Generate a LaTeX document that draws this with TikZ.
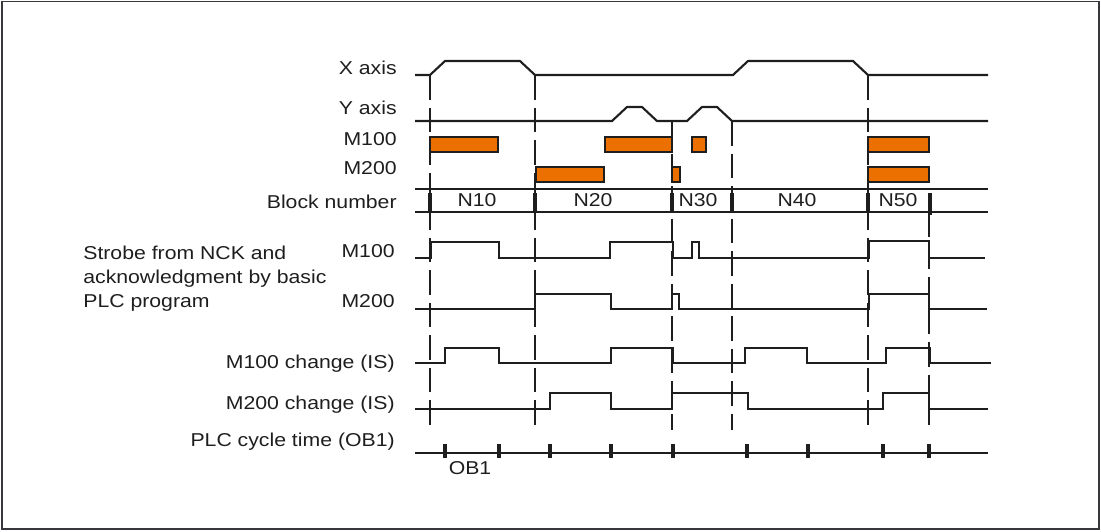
\documentclass[tikz,border=0pt]{standalone}
\usepackage{fontspec}
\setmainfont{Liberation Sans}[FakeStretch=1.14]
\usepackage{xcolor}
\usepackage{tikz}
\usetikzlibrary{positioning}
\definecolor{myorange}{RGB}{236,112,0}
\definecolor{mydark}{RGB}{30,30,30}
\definecolor{myframe}{RGB}{55,55,60}
\tikzset{
  signal/.style={line width=1.2pt, color=mydark},
  rowline/.style={line width=0.6pt, color=mydark},
  guide/.style={line width=0.6pt, color=mydark, dash pattern=on 14pt off 4.5pt},
  mbox/.style={draw=mydark, fill=myorange, line width=1.1pt},
  tickmark/.style={line width=1.8pt, color=mydark},
  lbl/.style={anchor=east, font=\fontsize{10.6}{13.7}\selectfont, text=mydark,
    inner sep=0pt, text height=7.5pt, text depth=0pt},
  blk/.style={font=\fontsize{10.6}{13.7}\selectfont, text=mydark,
    inner sep=0pt, text height=7.5pt, text depth=0pt}
}

\begin{document}
\begin{tikzpicture}[x=0.02cm, y=-0.02cm]
  \useasboundingbox (0,0) rectangle (1101,531);
  \draw[myframe, line width=0.8pt] (2,1.5) rectangle (1099,529);

  % row labels
  \node[lbl] (xaxis) at (397,68) {X axis};
  \node[lbl] (yaxis) at (397,108) {Y axis};
  \node[lbl] (m100) at (397,139) {M100};
  \node[lbl] (m200) at (397,168) {M200};
  \node[lbl] (block) at (397,202) {Block number};
  \node[blk, anchor=west, align=left, text height=, text depth=] (strobe) at (83,279)
    {Strobe from NCK and\\acknowledgment by basic\\PLC program};
  \node[lbl] (strobea) at (395,251) {M100};
  \node[lbl] (strobeb) at (395,301) {M200};
  \node[lbl] (chga) at (395,362) {M100 change (IS)};
  \node[lbl] (chgb) at (395,403) {M200 change (IS)};
  \node[lbl] (cycle) at (395,440) {PLC cycle time (OB1)};

  % guide lines
  \foreach \x/\y in {430/75, 535/75, 672/121, 732/121, 868/75}
    \draw[guide] (\x,\y) -- (\x,430);
  \draw[guide] (929,212) -- (929,425);

  % axes
  \draw[signal] (415,75) -- (430,75) -- (445,61) -- (520,61) -- (535,75) -- (733,75)
    -- (748,61) -- (853,61) -- (868,75) -- (988,75);
  \draw[signal] (415,121) -- (612,121) -- (627,107) -- (642,107) -- (657,121) -- (687,121)
    -- (702,107) -- (717,107) -- (732,121) -- (988,121);

  % M functions
  \foreach \a/\b in {430/498, 605/672, 692/706, 868/929}
    \draw[mbox] (\a,137) rectangle (\b,152);
  \foreach \a/\b in {536/604, 672/680, 868/929}
    \draw[mbox] (\a,167) rectangle (\b,182);

  % block numbers
  \draw[rowline] (415,189) -- (988,189);
  \draw[rowline] (415,212) -- (988,212);
  \foreach \x in {430, 535, 672, 732, 868}
    \draw[tickmark] (\x,193) -- (\x,212);
  \draw[tickmark] (930,193) -- (930,215);
  \node[blk] (n10) at (477,200) {N10};
  \node[blk] (n20) at (593,200) {N20};
  \node[blk] (n30) at (698,200) {N30};
  \node[blk] (n40) at (797,200) {N40};
  \node[blk] (n50) at (898,200) {N50};

  % strobe and acknowledgment
  \draw[signal] (415,258) -| (431,242) -| (499,258) -| (610,242) -| (673,258) -| (692,242)
    -| (699,258) -| (869,241) -| (929,258) -- (985,258);
  \draw[signal] (415,309) -| (535,294) -| (611,309) -| (672,294) -| (679,309) -| (869,294)
    -| (929,309) -- (987,309);

  % change signals
  \draw[signal] (415,363) -| (445,348) -| (499,363) -| (611,348) -| (673,363) -| (745,348)
    -| (807,363) -| (886,348) -| (930,363) -- (991,363);
  \draw[signal] (415,409) -| (550,393) -| (611,409) -| (672,393) -| (748,409) -| (883,393)
    -| (929,409) -- (988,409);

  % PLC cycle
  \draw[signal] (415,453) -- (988,453);
  \foreach \x in {445, 499, 550, 611, 673, 747, 808, 883, 929}
    \draw[tickmark] (\x,444) -- (\x,458);
  \node[blk] (ob) at (470,468) {OB1};
\end{tikzpicture}
\end{document}
